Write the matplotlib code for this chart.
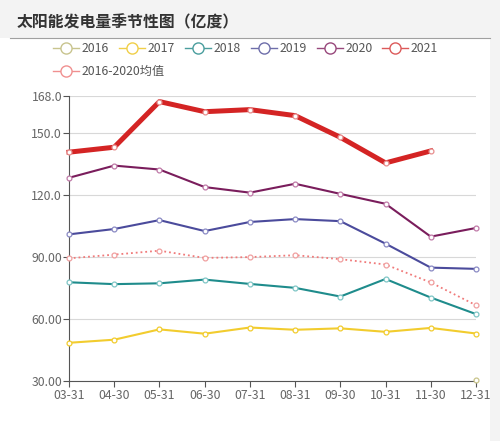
import numpy as np
import matplotlib
matplotlib.use("Agg")
import matplotlib.pyplot as plt
from matplotlib.lines import Line2D
from matplotlib.patches import Rectangle

plt.rcParams['font.family'] = ['Noto Sans CJK SC', 'DejaVu Sans']

dates = ["03-31", "04-30", "05-31", "06-30", "07-31", "08-31", "09-30", "10-31", "11-30", "12-31"]
nan = np.nan
s2016 = [nan, nan, nan, nan, nan, nan, nan, nan, nan, 30.5]
s2017 = [48.5, 50.0, 55.0, 52.9, 55.9, 54.8, 55.5, 53.8, 55.7, 53.0]
s2018 = [77.8, 76.9, 77.3, 79.1, 77.0, 75.1, 70.9, 79.4, 70.4, 62.4]
s2019 = [101.0, 103.6, 107.9, 102.6, 107.0, 108.4, 107.4, 96.5, 84.9, 84.3]
s2020 = [128.4, 134.3, 132.4, 123.9, 121.2, 125.5, 120.6, 115.8, 99.9, 104.1]
s2021 = [140.8, 143.2, 165.3, 160.4, 161.4, 158.5, 148.0, 135.6, 141.4, nan]
avg = [89.4, 91.2, 93.1, 89.6, 90.0, 90.9, 89.0, 86.4, 77.7, 66.7]

yticks = [30, 60, 90, 120, 150, 168]
ylabels = ["30.00", "60.00", "90.00", "120.0", "150.0", "168.0"]

fig = plt.figure(figsize=(5, 4.41), dpi=100)
fig.patch.set_facecolor("white")
# grey header band and right strip
fig.add_artist(Rectangle((0, 1 - 38 / 441), 1, 38 / 441, transform=fig.transFigure,
                         facecolor="#f3f3f3", edgecolor="none", zorder=0))
fig.add_artist(Rectangle((490 / 500, 0), 10 / 500, 1, transform=fig.transFigure,
                         facecolor="#f3f3f3", edgecolor="none", zorder=0))
fig.add_artist(Line2D([10 / 500, 490 / 500], [1 - 38 / 441, 1 - 38 / 441],
                      transform=fig.transFigure, color="#a0a0a0", lw=0.8))
fig.text(17 / 500, 1 - 22 / 441, "太阳能发电量季节性图（亿度）", fontsize=11.4,
         fontweight="bold", color="#333333", va="center", ha="left")

ax = fig.add_axes([69 / 500, 1 - 381 / 441, (476 - 69) / 500, (381 - 96) / 441])
x = np.arange(len(dates))

series = [
    ("2016", s2016, "#c9c48a", 1.2, "-"),
    ("2017", s2017, "#f2cc2e", 1.5, "-"),
    ("2018", s2018, "#1f8c8c", 1.5, "-"),
    ("2019", s2019, "#4b4b9c", 1.5, "-"),
    ("2020", s2020, "#7a1d5c", 1.5, "-"),
    ("2021", s2021, "#d42424", 3.6, "-"),
    ("2016-2020均值", avg, "#f07a7a", 1.3, ":"),
]
edge = {"2016": "#c9c48a", "2017": "#f2cc2e", "2018": "#7fc6c6", "2019": "#8a8ac4",
        "2020": "#c07aa8", "2021": "#e89090", "2016-2020均值": "#f0a0a0"}
legcol = {"2016": "#c8c48e", "2017": "#f0cf48", "2018": "#4a9e9e", "2019": "#6e6eaa",
          "2020": "#98487c", "2021": "#dc5a5a", "2016-2020均值": "#f09090"}
for name, vals, col, lw, ls in series:
    ax.plot(x, vals, color=col, lw=lw, ls=ls, marker="o", markersize=3.5,
            markerfacecolor="white", markeredgecolor=edge[name], markeredgewidth=0.9,
            clip_on=False, zorder=3)

ax.set_xlim(0, len(dates) - 1)
ax.set_ylim(30, 168)
ax.set_xticks(x)
ax.set_xticklabels(dates)
ax.set_yticks(yticks)
ax.set_yticklabels(ylabels)
ax.tick_params(axis="both", labelsize=8.8, colors="#555555", length=4, width=0.8)
ax.tick_params(axis="y", pad=1)
ax.tick_params(axis="x", pad=1.5)
for t in ax.get_xticklabels() + ax.get_yticklabels():
    t.set_color("#666666")
ax.grid(axis="y", color="#d8d8d8", lw=0.8)
ax.set_axisbelow(True)
for s in ["top", "right"]:
    ax.spines[s].set_visible(False)
ax.spines["left"].set_color("#555555")
ax.spines["bottom"].set_color("#555555")

# legend drawn by hand to match layout
leg_items = [("2016", 66, 48), ("2017", 132, 48), ("2018", 198, 48), ("2019", 264, 48),
             ("2020", 330, 48), ("2021", 395, 48), ("2016-2020均值", 66, 71)]
for name, px, py in leg_items:
    fx, fy = px / 500, 1 - py / 441
    fig.add_artist(Line2D([fx - 13 / 500, fx + 13 / 500], [fy, fy], transform=fig.transFigure,
                          color=legcol[name], lw=1.0))
    fig.add_artist(Line2D([fx], [fy], transform=fig.transFigure, marker="o", markersize=8,
                          markerfacecolor="white", markeredgecolor=legcol[name],
                          markeredgewidth=1.0))
    fig.text(fx + 16 / 500, fy, name, fontsize=8.8, color="#555555", va="center", ha="left")

fig.savefig("out.png", dpi=100)
